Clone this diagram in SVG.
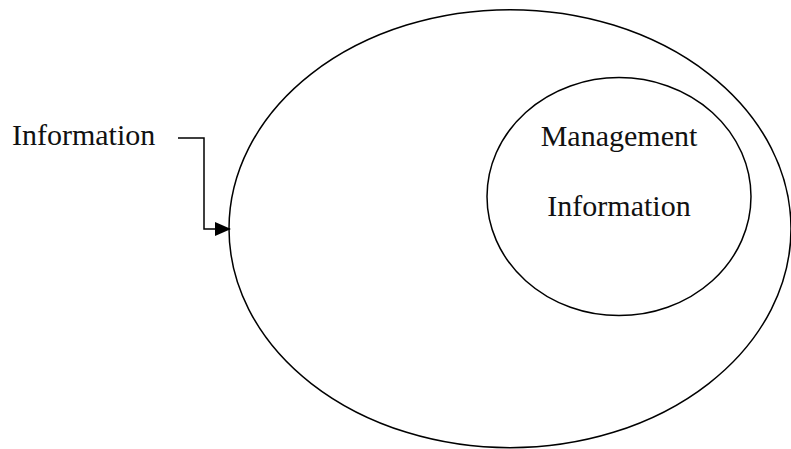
<svg xmlns="http://www.w3.org/2000/svg" width="791" height="449" viewBox="0 0 791 449">
  <style>
    .shape { fill: none; stroke: #000; stroke-width: 1.5; }
    .label { font-family: "Liberation Serif", "Times New Roman", serif; font-size: 30px; fill: #111; }
    .wire { fill: none; stroke: #000; stroke-width: 1.5; }
  </style>
  <defs>
    <marker id="arrow" markerWidth="16" markerHeight="14" refX="15" refY="7" orient="auto" markerUnits="userSpaceOnUse">
      <path d="M0,0 L16,7 L0,14 Z" fill="#000"/>
    </marker>
  </defs>
  <rect width="791" height="449" fill="#fff"/>

  <g id="information-source">
    <text class="label" x="12" y="145">Information</text>
  </g>

  <g id="information-set">
    <ellipse class="shape" cx="510" cy="228.7" rx="281" ry="219"/>
  </g>

  <g id="management-information">
    <ellipse class="shape" cx="619" cy="196.6" rx="132" ry="119"/>
    <text class="label" x="619" y="146" text-anchor="middle">Management</text>
    <text class="label" x="619" y="216" text-anchor="middle">Information</text>
  </g>

  <g id="connectors">
    <path class="wire" d="M178,138 H204 V229 H230" marker-end="url(#arrow)"/>
  </g>
</svg>
